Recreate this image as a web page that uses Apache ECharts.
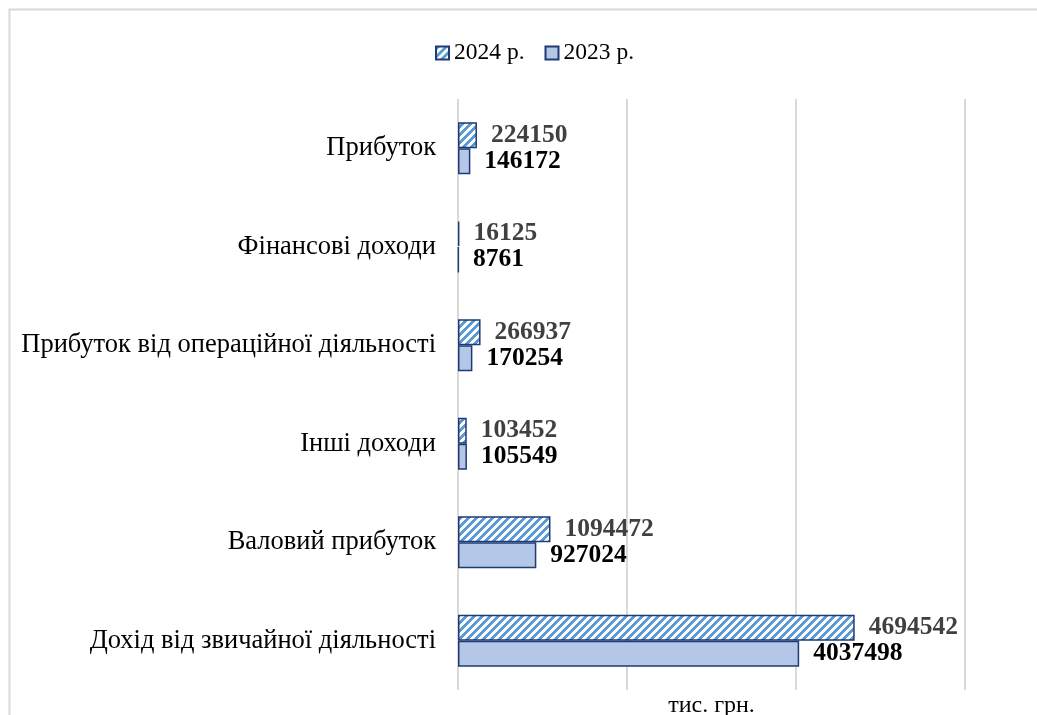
<!DOCTYPE html>
<html>
<head>
<meta charset="utf-8">
<script src="https://cdn.jsdelivr.net/npm/echarts@6/dist/echarts.min.js"></script>
<style>
html,body{margin:0;padding:0;background:#fff;}
#chart{width:1037px;height:715px;}
</style>
</head>
<body>
<div id="chart"></div>
<script>
const categories = [
  'Прибуток',
  'Фінансові доходи',
  'Прибуток від операційної діяльності',
  'Інші доходи',
  'Валовий прибуток',
  'Дохід від звичайної діяльності'
];
const values2024 = [224150, 16125, 266937, 103452, 1094472, 4694542];
const values2023 = [146172, 8761, 170254, 105549, 927024, 4037498];
const seriesNames = ['2024 р.', '2023 р.'];
const axisName = 'тис. грн.';

function makeStripe() {
  const size = 8;
  const c = document.createElement('canvas');
  c.width = size; c.height = size;
  const ctx = c.getContext('2d');
  const img = ctx.createImageData(size, size);
  for (let y = 0; y < size; y++) {
    for (let x = 0; x < size; x++) {
      const i = (y * size + x) * 4;
      const on = ((x + y) % size) < 4;
      if (on) { img.data[i] = 91; img.data[i+1] = 155; img.data[i+2] = 213; }
      else { img.data[i] = 255; img.data[i+1] = 255; img.data[i+2] = 255; }
      img.data[i+3] = 255;
    }
  }
  ctx.putImageData(img, 0, 0);
  return c;
}

const serif = "'Liberation Serif','Times New Roman',serif";
const chart = echarts.init(document.getElementById('chart'), null, {renderer: 'canvas'});
chart.setOption({
  animation: false,
  backgroundColor: '#fff',
  graphic: [{
    type: 'rect', silent: true, z: -10,
    shape: {x: 9.5, y: 9.5, width: 1200, height: 900},
    style: {fill: 'none', stroke: '#d9d9d9', lineWidth: 2}
  }],
  legend: {
    top: 36, left: 430, icon: 'rect',
    itemWidth: 13, itemHeight: 13, itemGap: 20,
    textStyle: {fontFamily: serif, fontSize: 23.5, color: '#000'},
    data: seriesNames
  },
  grid: {left: 458, right: 72, top: 99, bottom: 25, containLabel: false, outerBoundsMode: 'none'},
  xAxis: {
    type: 'value', min: 0, max: 6000000, interval: 2000000,
    axisLabel: {show: false},
    axisLine: {show: false}, axisTick: {show: false},
    splitLine: {lineStyle: {color: '#d9d9d9', width: 2}},
    name: axisName, nameLocation: 'middle', nameGap: 4,
    nameTextStyle: {fontFamily: serif, fontSize: 24, color: '#000', verticalAlign: 'top'}
  },
  yAxis: {
    type: 'category', inverse: true, data: categories,
    axisLine: {show: false}, axisTick: {show: false},
    axisLabel: {fontFamily: serif, fontSize: 26.5, color: '#000', margin: 22}
  },
  series: [
    {
      name: seriesNames[0], type: 'bar', data: values2024,
      barWidth: 26, barGap: '0%',
      itemStyle: {color: {image: makeStripe(), repeat: 'repeat'}, borderColor: '#1f3a75', borderWidth: 1.5},
      label: {show: true, position: 'right', distance: 14, fontFamily: serif, fontSize: 25.5, fontWeight: 'bold', color: '#404040'}
    },
    {
      name: seriesNames[1], type: 'bar', data: values2023,
      barWidth: 26, barGap: '0%',
      itemStyle: {color: '#b4c7e7', borderColor: '#1f3a75', borderWidth: 1.5},
      label: {show: true, position: 'right', distance: 14, fontFamily: serif, fontSize: 25.5, fontWeight: 'bold', color: '#000'}
    }
  ]
});
</script>
</body>
</html>
